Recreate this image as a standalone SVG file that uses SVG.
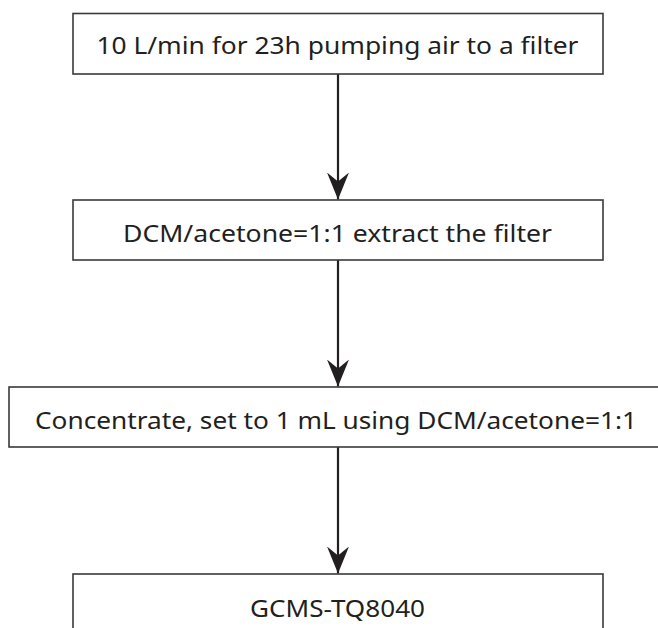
<svg xmlns="http://www.w3.org/2000/svg" width="658" height="628" viewBox="0 0 658 628">
  <style>
    .box { fill: #ffffff; stroke: #3a3a3a; stroke-width: 1.6; }
    .label { font-family: "Noto Sans", "Open Sans", sans-serif; font-size: 24px; fill: #231f20; text-anchor: middle; }
    .link { stroke: #231f20; stroke-width: 2.2; fill: none; marker-end: url(#head); }
  </style>
  <defs>
    <!-- barbed arrowhead drawn along +x; the tip sits on the path end -->
    <marker id="head" markerUnits="userSpaceOnUse" markerWidth="28" markerHeight="22" refX="27" refY="11" orient="auto" viewBox="0 0 28 22">
      <path d="M0,0 L9,11 L0,22 L27,11 Z" fill="#231f20"/>
    </marker>
  </defs>
  <rect width="658" height="628" fill="#ffffff"/>

  <g id="connectors">
    <path class="link" d="M338,74 V199.5"/>
    <path class="link" d="M338,260 V386.5"/>
    <path class="link" d="M338,447 V573.5"/>
  </g>

  <g id="step-pump">
    <rect class="box" x="73" y="13.5" width="530" height="60.5"/>
    <text class="label" x="337.5" y="54" textLength="482" lengthAdjust="spacingAndGlyphs">10 L/min for 23h pumping air to a filter</text>
  </g>

  <g id="step-extract">
    <rect class="box" x="73" y="200" width="530" height="60"/>
    <text class="label" x="337.5" y="242" textLength="429" lengthAdjust="spacingAndGlyphs">DCM/acetone=1:1 extract the filter</text>
  </g>

  <g id="step-concentrate">
    <rect class="box" x="9" y="387" width="657" height="60"/>
    <text class="label" x="336" y="429" textLength="602" lengthAdjust="spacingAndGlyphs">Concentrate, set to 1 mL using DCM/acetone=1:1</text>
  </g>

  <g id="step-gcms">
    <rect class="box" x="73" y="574" width="530" height="60"/>
    <text class="label" x="337.5" y="617" textLength="175" lengthAdjust="spacingAndGlyphs">GCMS-TQ8040</text>
  </g>
</svg>
